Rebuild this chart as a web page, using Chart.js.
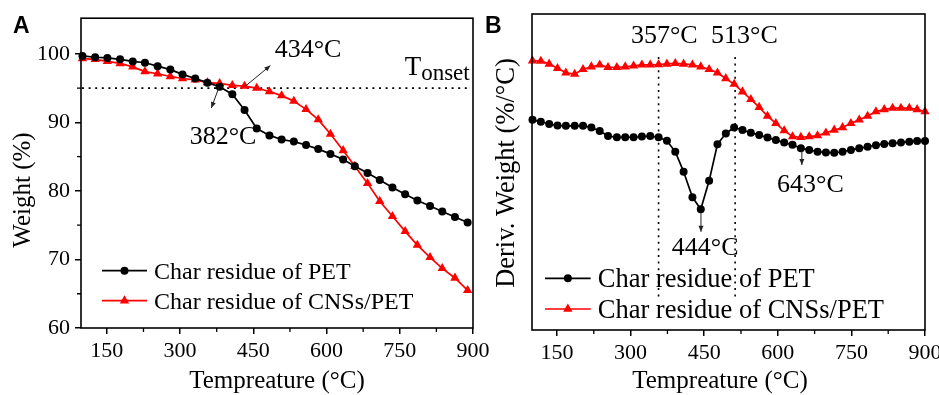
<!DOCTYPE html>
<html><head><meta charset="utf-8">
<script src="https://cdn.jsdelivr.net/npm/chart.js@4.4.0/dist/chart.umd.min.js"></script>
<style>
html,body{margin:0;padding:0;background:#fff;overflow:hidden;width:939px;height:395px;position:relative;}
#ca{position:absolute;left:0;top:0;}
#cb{position:absolute;left:480px;top:0;}
</style></head><body>
<canvas id="ca" width="500" height="395"></canvas>
<canvas id="cb" width="480" height="395"></canvas>
<script>
// ---------- Panel A data (TGA) ----------
const tempA = [100,126,151,177,203,228,254,280,305,331,356,381,407,432,457,483,508,533,558,583,608,634,658,684,709,735,761,786,812,837,863,889];
const weightPET = [99.7,99.5,99.4,99.2,98.9,98.7,98.2,97.7,97.0,96.4,95.8,95.2,94.1,91.8,89.1,88.1,87.5,87.2,86.7,86.1,85.4,84.6,83.6,82.6,81.6,80.5,79.5,78.6,77.8,77.0,76.2,75.4];
const weightCNS = [99.3,99.2,98.9,98.6,98.1,97.4,97.1,96.7,96.4,96.2,95.8,95.7,95.4,95.3,95.0,94.5,93.9,93.1,91.9,90.4,88.3,85.9,83.6,81.1,78.5,76.3,74.1,72.1,70.3,68.7,67.3,65.5];
// ---------- Panel B data (DTG, arbitrary offset units) ----------
const tempB = [100,117,134,151,168,186,203,220,237,254,272,289,306,323,340,357,374,391,408,426,443,460,477,494,511,528,545,562,579,596,613,630,647,664,681,698,715,732,749,766,783,800,817,834,851,868,884,900];
const derivPET = [66.5,65.9,65.2,64.7,64.6,64.6,64.6,64.1,63.0,61.4,61.0,61.0,61.0,61.2,61.4,61.0,59.9,56.4,50.1,42.0,38.2,47.2,58.8,62.2,64.1,63.3,62.4,61.7,60.9,60.1,59.3,58.6,57.5,57.0,56.4,56.2,56.1,56.4,57.0,57.5,58.0,58.5,58.9,59.1,59.3,59.6,59.8,59.8];
const derivCNS = [85.2,85.1,84.2,82.8,81.4,81.0,82.5,83.3,83.9,83.1,83.1,83.3,83.6,83.9,83.9,84.0,84.2,84.4,84.2,83.9,83.3,82.5,81.4,79.6,77.8,75.4,73.0,70.5,67.7,65.4,63.1,61.2,61.0,61.2,61.5,62.4,63.3,64.1,65.4,66.5,67.7,69.1,69.8,70.2,70.2,70.2,69.8,69.1];
// ---------- ticks ----------
const xTickValues = [150,300,450,600,750,900];
const xMinorValues = [225,375,525,675,825];
const yTickValuesA = [60,70,80,90,100];
const yMinorValuesA = [65,75,85,95];
const seriesNames = ['Char residue of PET','Char residue of CNSs/PET'];
const tOnset = 95;
const peakLinesB = [357,513];

const SERIF = "'Liberation Serif','Times New Roman',serif";
const SANS = "'Liberation Sans',Arial,sans-serif";

function mkDatasets(xs, ys1, ys2){
  return [
    {label:seriesNames[0], data: xs.map((x,i)=>({x, y: ys1[i]})), borderColor:'#000', backgroundColor:'#000',
     pointStyle:'circle', pointRadius:4, pointBorderWidth:0, borderWidth:1.7, tension:0, clip:false},
    {label:seriesNames[1], data: xs.map((x,i)=>({x, y: ys2[i]})), borderColor:'#ff0000', backgroundColor:'#ff0000',
     pointStyle:'triangle', pointRadius:5.4, pointBorderWidth:0, borderWidth:1.7, tension:0, clip:false}
  ];
}

function arrow(ctx, x1,y1,x2,y2){
  ctx.save();
  ctx.strokeStyle='#222'; ctx.fillStyle='#222'; ctx.lineWidth=1;
  ctx.beginPath(); ctx.moveTo(x1,y1); ctx.lineTo(x2,y2); ctx.stroke();
  const ang=Math.atan2(y2-y1,x2-x1), L=6, W=2.5;
  ctx.beginPath();
  ctx.moveTo(x2,y2);
  ctx.lineTo(x2-L*Math.cos(ang)+W*Math.sin(ang), y2-L*Math.sin(ang)-W*Math.cos(ang));
  ctx.lineTo(x2-L*Math.cos(ang)-W*Math.sin(ang), y2-L*Math.sin(ang)+W*Math.cos(ang));
  ctx.closePath(); ctx.fill();
  ctx.restore();
}

function marker(ctx, style, r, cx, cy, color){
  ctx.save(); ctx.fillStyle=color; ctx.beginPath();
  if(style==='circle'){ ctx.arc(cx,cy,r,0,Math.PI*2); }
  else { for(let k=0;k<3;k++){ const a=-Math.PI/2+k*2*Math.PI/3; const px=cx+r*Math.cos(a), py=cy+r*Math.sin(a); if(k===0) ctx.moveTo(px,py); else ctx.lineTo(px,py);} ctx.closePath(); }
  ctx.fill(); ctx.restore();
}

function frame(chart, yMinor){
  const {ctx, chartArea:a, scales:{x,y}} = chart;
  ctx.save();
  ctx.strokeStyle='#000'; ctx.lineWidth=1.6;
  ctx.strokeRect(a.left, a.top, a.right-a.left, a.bottom-a.top);
  ctx.lineWidth=1.3; ctx.beginPath();
  xMinorValues.forEach(v=>{const px=x.getPixelForValue(v); ctx.moveTo(px,a.bottom); ctx.lineTo(px,a.bottom+4);});
  (yMinor||[]).forEach(v=>{const py=y.getPixelForValue(v); ctx.moveTo(a.left,py); ctx.lineTo(a.left-4,py);});
  ctx.stroke(); ctx.restore();
}

function legend(chart, x0, x1, xt, ys, size){
  const ctx=chart.ctx;
  chart.data.datasets.forEach((ds,i)=>{
    const y=ys[i];
    ctx.save(); ctx.strokeStyle=ds.borderColor; ctx.lineWidth=1.7;
    ctx.beginPath(); ctx.moveTo(x0,y); ctx.lineTo(x1,y); ctx.stroke(); ctx.restore();
    marker(ctx, ds.pointStyle, ds.pointRadius, (x0+x1)/2, y, ds.backgroundColor);
    ctx.save(); ctx.fillStyle='#000'; ctx.font=size+'px '+SERIF; ctx.textBaseline='alphabetic';
    ctx.fillText(ds.label, xt, y+size*0.33); ctx.restore();
  });
}

function text(ctx, s, x, y, size, align, font, weight){
  ctx.save(); ctx.fillStyle='#000'; ctx.font=(weight||'')+' '+size+'px '+(font||SERIF);
  ctx.textAlign=align||'center'; ctx.textBaseline='alphabetic'; ctx.fillText(s,x,y); ctx.restore();
}
function vtext(ctx, s, x, y, size){
  ctx.save(); ctx.translate(x,y); ctx.rotate(-Math.PI/2);
  ctx.fillStyle='#000'; ctx.font=size+'px '+SERIF; ctx.textAlign='center'; ctx.textBaseline='alphabetic';
  ctx.fillText(s,0,0); ctx.restore();
}

function baseOptions(xmin, xmax, ymin, ymax, yW, xH, pad, showY){
  return {
    responsive:false, animation:false, devicePixelRatio:1,
    layout:{padding:pad},
    plugins:{legend:{display:false}, tooltip:{enabled:false}},
    elements:{line:{borderJoinStyle:'round'}},
    scales:{
      x:{type:'linear', min:xmin, max:xmax,
         afterBuildTicks:(s)=>{ s.ticks = xTickValues.map(v=>({value:v})); },
         afterFit:(s)=>{ s.height = xH; },
         grid:{display:true, drawOnChartArea:false, drawTicks:true, tickLength:6, color:'#000', lineWidth:1.5},
         border:{display:false},
         ticks:{color:'#000', font:{family:SERIF, size:22}, padding:4, maxRotation:0, autoSkip:false}},
      y:{type:'linear', min:ymin, max:ymax,
         afterBuildTicks:(s)=>{ s.ticks = showY ? yTickValuesA.map(v=>({value:v})) : []; },
         afterFit:(s)=>{ s.width = yW; },
         grid:{display:showY, drawOnChartArea:false, drawTicks:true, tickLength:6, color:'#000', lineWidth:1.5},
         border:{display:false},
         ticks:{display:showY, color:'#000', font:{family:SERIF, size:22}, padding:5, autoSkip:false}}
    }
  };
}

// ---------------- Chart A ----------------
const plugA = {
  id:'decorA',
  beforeDatasetsDraw(chart){
    const {ctx, chartArea:a, scales:{y}} = chart;
    const py=y.getPixelForValue(tOnset);
    ctx.save(); ctx.strokeStyle='#000'; ctx.lineWidth=1.6; ctx.setLineDash([2,4.6]);
    ctx.beginPath(); ctx.moveTo(a.left+1,py); ctx.lineTo(a.right-6,py); ctx.stroke(); ctx.restore();
  },
  afterDatasetsDraw(chart){
    const {ctx, scales:{x,y}} = chart;
    frame(chart, yMinorValuesA);
    arrow(ctx, x.getPixelForValue(434), y.getPixelForValue(95.3), x.getPixelForValue(485), y.getPixelForValue(98.3));
    arrow(ctx, x.getPixelForValue(380), y.getPixelForValue(95.2), x.getPixelForValue(364), y.getPixelForValue(92.1));
    text(ctx,'434°C', x.getPixelForValue(562), y.getPixelForValue(99.5), 26);
    text(ctx,'382°C', x.getPixelForValue(388), y.getPixelForValue(86.8), 26);
    const tx=x.getPixelForValue(760), ty=y.getPixelForValue(96.9);
    text(ctx,'T', tx, ty, 27, 'left');
    ctx.save(); ctx.font='27px '+SERIF; const tw=ctx.measureText('T').width; ctx.restore();
    text(ctx,'onset', tx+tw, ty+5, 23, 'left');
  },
  afterDraw(chart){
    const ctx=chart.ctx;
    legend(chart, 102, 147, 154, [270.7, 300.7], 24);
    vtext(ctx, 'Weight (%)', 30, 190, 25);
    const a=chart.chartArea;
    text(ctx, 'Tempreature (°C)', (a.left+a.right)/2, 388, 25);
    text(ctx, 'A', 13, 33.3, 23, 'left', SANS, 'bold');
  }
};
new Chart(document.getElementById('ca'), {
  type:'line',
  data:{datasets: mkDatasets(tempA, weightPET, weightCNS)},
  options: baseOptions(97, 900, 60, 105.2, 81, 67, {top:14, right:27, left:0, bottom:0}, true),
  plugins:[plugA]
});

// ---------------- Chart B ----------------
const plugB = {
  id:'decorB',
  beforeDatasetsDraw(chart){
    const {ctx, scales:{x,y}} = chart;
    ctx.save(); ctx.strokeStyle='#000'; ctx.lineWidth=1.6; ctx.setLineDash([2,4.6]);
    peakLinesB.forEach(t=>{ const px=x.getPixelForValue(t);
      ctx.beginPath(); ctx.moveTo(px, y.getPixelForValue(86.4)); ctx.lineTo(px, y.getPixelForValue(10.1)); ctx.stroke(); });
    ctx.restore();
  },
  afterDatasetsDraw(chart){
    const {ctx, scales:{x,y}} = chart;
    frame(chart, null);
    text(ctx,'357°C', x.getPixelForValue(368.6), y.getPixelForValue(90.7), 26);
    text(ctx,'513°C', x.getPixelForValue(532), y.getPixelForValue(90.7), 26);
    arrow(ctx, x.getPixelForValue(443.4), y.getPixelForValue(37.2), x.getPixelForValue(443.4), y.getPixelForValue(31.1));
    text(ctx,'444°C', x.getPixelForValue(452), y.getPixelForValue(23.7), 26);
    arrow(ctx, x.getPixelForValue(649), y.getPixelForValue(56.8), x.getPixelForValue(649), y.getPixelForValue(52.2));
    text(ctx,'643°C', x.getPixelForValue(666.4), y.getPixelForValue(43.8), 26);
  },
  afterDraw(chart){
    const ctx=chart.ctx;
    legend(chart, 65, 110.7, 117.7, [278.3, 309], 26.5);
    vtext(ctx, 'Deriv. Weight (%/°C)', 34, 173, 26.5);
    text(ctx, 'Tempreature (°C)', 240, 388, 25);
    text(ctx, 'B', 5, 33.3, 23, 'left', SANS, 'bold');
  }
};
new Chart(document.getElementById('cb'), {
  type:'line',
  data:{datasets: mkDatasets(tempB, derivPET, derivCNS)},
  options: baseOptions(99, 900, 0, 100, 52, 65, {top:14, right:35, left:0, bottom:0}, false),
  plugins:[plugB]
});
</script>
</body></html>
